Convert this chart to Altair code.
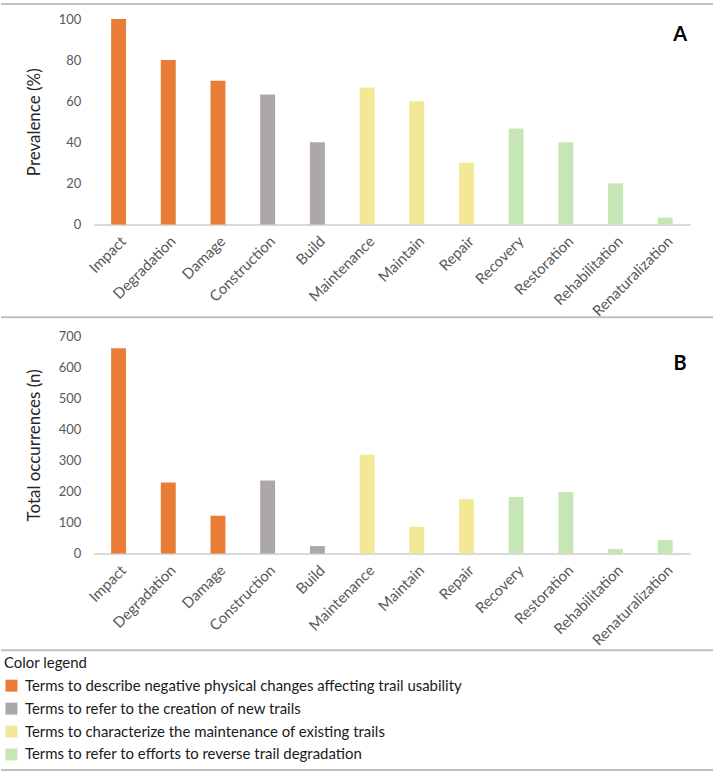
import altair as alt
import pandas as pd

# Terms, in display order
terms = ["Impact", "Degradation", "Damage", "Construction", "Build", "Maintenance",
         "Maintain", "Repair", "Recovery", "Restoration", "Rehabilitation",
         "Renaturalization"]

# Share of documents (%) using each term
prevalence = [100, 80, 70, 63.3, 40, 66.7, 60, 30, 46.7, 40, 20, 3.3]

# Total number of occurrences of each term
occurrences = [661, 229, 122, 235, 24, 318, 86, 175, 182, 198, 15, 44]

# Term groups and their colours
group_names = [
    "Terms to describe negative physical changes affecting trail usability",
    "Terms to refer to the creation of new trails",
    "Terms to characterize the maintenance of existing trails",
    "Terms to refer to efforts to reverse trail degradation",
]
group_colors = ["#E97C37", "#ABA8A7", "#F2E896", "#C6E7B5"]
term_group = [0, 0, 0, 1, 1, 2, 2, 2, 3, 3, 3, 3]

df = pd.DataFrame({
    "term": terms,
    "prevalence": prevalence,
    "occurrences": occurrences,
    "group": [group_names[i] for i in term_group],
})

PLOT_W = 598
LINE_COLOR = "#BFBFBF"

x_enc = alt.X(
    "term:N", sort=terms, title=None,
    scale=alt.Scale(paddingInner=0.7, paddingOuter=0.35),
    axis=alt.Axis(labelAngle=-45, labelAlign="right", labelBaseline="top",
                  ticks=False, domainColor="#D9D9D9", domainWidth=2,
                  labelPadding=9, labelColor="#595959", labelFontSize=15),
)

color_enc = alt.Color(
    "group:N",
    scale=alt.Scale(domain=group_names, range=group_colors),
    legend=alt.Legend(title="Color legend", orient="none", legendX=-90, legendY=639,
                      symbolType="square", symbolSize=144, symbolStrokeWidth=0,
                      labelLimit=700, labelFontSize=15, labelColor="#1a1a1a",
                      titleFontSize=15, titleFontWeight="normal", titleColor="#1a1a1a",
                      titlePadding=7, rowPadding=7, labelOffset=6),
)


def y_axis(title, ticks_at):
    return alt.Axis(title=title, domain=False, ticks=False, grid=False,
                    values=ticks_at,
                    labelPadding=13, labelColor="#595959", labelFontSize=13,
                    titleFontSize=17, titleFontWeight="normal",
                    titleColor="#262626", titlePadding=15)


def hline(y):
    return alt.Chart(alt.Data(values=[{}])).mark_rule(
        color=LINE_COLOR, strokeWidth=2
    ).encode(x=alt.value(-93), x2=alt.value(621), y=alt.value(y))


def panel_letter(letter, y):
    return alt.Chart(alt.Data(values=[{}])).mark_text(
        text=letter, fontSize=20, fontWeight="bold", color="#000000",
        align="center", baseline="middle"
    ).encode(x=alt.value(588), y=alt.value(y))


bars_a = alt.Chart(df).mark_bar().encode(
    x=x_enc,
    y=alt.Y("prevalence:Q", scale=alt.Scale(domain=[0, 100]),
            axis=y_axis("Prevalence (%)", [0, 20, 40, 60, 80, 100])),
    color=color_enc,
)

bars_b = alt.Chart(df).mark_bar().encode(
    x=x_enc,
    y=alt.Y("occurrences:Q", scale=alt.Scale(domain=[0, 700]),
            axis=y_axis("Total occurrences (n)",
                        [0, 100, 200, 300, 400, 500, 600, 700])),
    color=color_enc,
)

panel_a = alt.layer(
    bars_a, hline(-15), hline(299), panel_letter("A", 16)
).properties(width=PLOT_W, height=206)

panel_b = alt.layer(
    bars_b, hline(315), hline(435), panel_letter("B", 28)
).properties(width=PLOT_W, height=218)

chart = alt.VConcatChart(
    vconcat=[panel_a, panel_b], spacing=112, bounds="flush"
).configure(
    font="Lato",
    padding={"left": 0, "top": 2, "right": 4, "bottom": 1},
    background="white",
).configure_view(stroke=None)

chart.save("out.html", embed_options={"renderer": "svg", "actions": False})
